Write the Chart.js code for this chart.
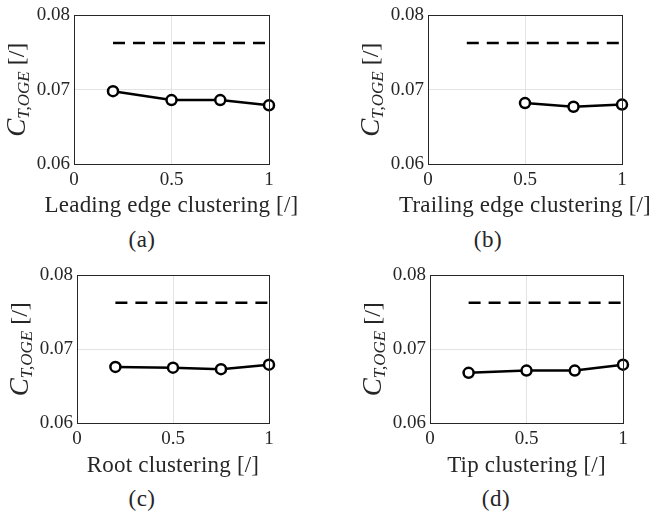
<!DOCTYPE html>
<html>
<head>
<meta charset="utf-8">
<script src="https://cdn.jsdelivr.net/npm/chart.js@4.4.1/dist/chart.umd.min.js"></script>
<style>
  body { margin: 0; background: #fff; width: 652px; height: 519px; position: relative; overflow: hidden;
         font-family: "Liberation Serif", serif; color: #262626; }
  canvas { position: absolute; }
  .cap { position: absolute; font-size: 23px; letter-spacing: 0.5px; transform: translate(-50%, -50%); white-space: nowrap; }
</style>
</head>
<body>
<canvas id="ca" width="326" height="225" style="left:0;top:0"></canvas>
<canvas id="cb" width="326" height="225" style="left:326px;top:0"></canvas>
<canvas id="cc" width="326" height="225" style="left:0;top:260px"></canvas>
<canvas id="cd" width="326" height="225" style="left:326px;top:260px"></canvas>
<div class="cap" style="left:142px;top:240px">(a)</div>
<div class="cap" style="left:488px;top:240px">(b)</div>
<div class="cap" style="left:142px;top:499px">(c)</div>
<div class="cap" style="left:496px;top:499px">(d)</div>
<script>
// clustering factor vs thrust coefficient out of ground effect
const leadingX = [0.2, 0.5, 0.75, 1];
const leadingCT = [0.0698, 0.0686, 0.0686, 0.0679];
const trailingX = [0.5, 0.75, 1];
const trailingCT = [0.0682, 0.0677, 0.0680];
const rootX = [0.2, 0.5, 0.75, 1];
const rootCT = [0.0676, 0.0675, 0.0673, 0.0679];
const tipX = [0.2, 0.5, 0.75, 1];
const tipCT = [0.0668, 0.0671, 0.0671, 0.0679];
// reference value (dashed)
const refX = [0.2, 1];
const refCT = [0.0763, 0.0763];

const yTicks = ['0.06', '0.07', '0.08'];
const xTicks = ['0', '0.5', '1'];

const ink = '#262626';
const serif = '"Liberation Serif", serif';

function pts(xs, ys) {
  return xs.map((x, i) => ({ x: x, y: ys[i] }));
}

function make(id, xs, ys, xTitle, box) {
  const canvas = document.getElementById(id);
  const W = canvas.width, H = canvas.height;

  const labels = {
    id: 'labels',
    afterDraw(chart) {
      const a = chart.chartArea;
      const ctx = chart.ctx;
      ctx.save();
      ctx.strokeStyle = ink;
      ctx.lineWidth = 1;
      ctx.strokeRect(Math.round(a.left) + 0.5, Math.round(a.top) + 0.5,
        Math.round(a.right - a.left), Math.round(a.bottom - a.top));

      // x label
      ctx.fillStyle = ink;
      ctx.font = '23px ' + serif;
      ctx.letterSpacing = '0.2px';
      ctx.textAlign = 'center';
      ctx.textBaseline = 'middle';
      ctx.fillText(xTitle, (a.left + a.right) / 2, 206);
      ctx.letterSpacing = '0px';
      ctx.textAlign = 'left';

      // y label: C_{T,OGE} [/]
      const cx = a.left - 56, cy = (a.top + a.bottom) / 2;
      ctx.translate(cx, cy);
      ctx.rotate(-Math.PI / 2);
      const fC = 'italic 27px ' + serif;
      const fS = 'italic 17px ' + serif;
      const fB = '24px ' + serif;
      ctx.font = fC; const wC = ctx.measureText('C').width;
      ctx.font = fS; const wS = ctx.measureText('T,OGE').width;
      ctx.font = fB; const wB = ctx.measureText(' [/]').width;
      let x = -(wC + wS + wB) / 2;
      ctx.font = fC; ctx.fillText('C', x, 0); x += wC;
      ctx.font = fS; ctx.fillText('T,OGE', x, 7); x += wS;
      ctx.font = fB; ctx.fillText(' [/]', x, 0);
      ctx.restore();
    }
  };

  return new Chart(canvas, {
    type: 'line',
    data: {
      datasets: [
        {
          data: pts(refX, refCT),
          borderColor: '#000',
          borderWidth: 2.5,
          borderDash: [12, 8],
          pointRadius: 0,
          order: 2,
        },
        {
          data: pts(xs, ys),
          borderColor: '#000',
          borderWidth: 2.5,
          pointRadius: 5,
          pointBorderWidth: 2.5,
          pointBackgroundColor: '#fff',
          pointBorderColor: '#000',
          clip: false,
          order: 1,
        },
      ],
    },
    options: {
      responsive: false,
      animation: false,
      layout: {
        autoPadding: false,
        padding: { left: 0, top: box.top, right: W - box.right, bottom: 0 },
      },
      plugins: {
        legend: { display: false },
        tooltip: { enabled: false },
      },
      scales: {
        x: {
          type: 'linear',
          min: 0,
          max: 1,
          afterFit: (s) => { s.height = H - box.bottom; },
          afterBuildTicks: (s) => { s.ticks = xTicks.map(v => ({ value: +v })); },
          grid: { color: '#e3e3e3', drawTicks: false },
          border: { display: false },
          ticks: {
            autoSkip: false, maxRotation: 0, minRotation: 0, padding: 5,
            color: ink, font: { family: serif, size: 19 },
            callback: (v) => xTicks.find(t => +t === v),
          },
        },
        y: {
          min: 0.06,
          max: 0.08,
          afterFit: (s) => { s.width = box.left; },
          afterBuildTicks: (s) => { s.ticks = yTicks.map(v => ({ value: +v })); },
          grid: { color: '#e3e3e3', drawTicks: false },
          border: { display: false },
          ticks: {
            padding: 4, color: ink, font: { family: serif, size: 19 },
            callback: (v) => yTicks.find(t => Math.abs(+t - v) < 1e-9),
          },
        },
      },
    },
    plugins: [labels],
  });
}

make('ca', leadingX, leadingCT, 'Leading edge clustering [/]', { left: 74, right: 269, top: 13, bottom: 164 });
make('cb', trailingX, trailingCT, 'Trailing edge clustering [/]', { left: 102, right: 296, top: 13, bottom: 164 });
make('cc', rootX, rootCT, 'Root clustering [/]', { left: 77, right: 269, top: 11, bottom: 163 });
make('cd', tipX, tipCT, 'Tip clustering [/]', { left: 104, right: 297, top: 11, bottom: 163 });
</script>
</body>
</html>
